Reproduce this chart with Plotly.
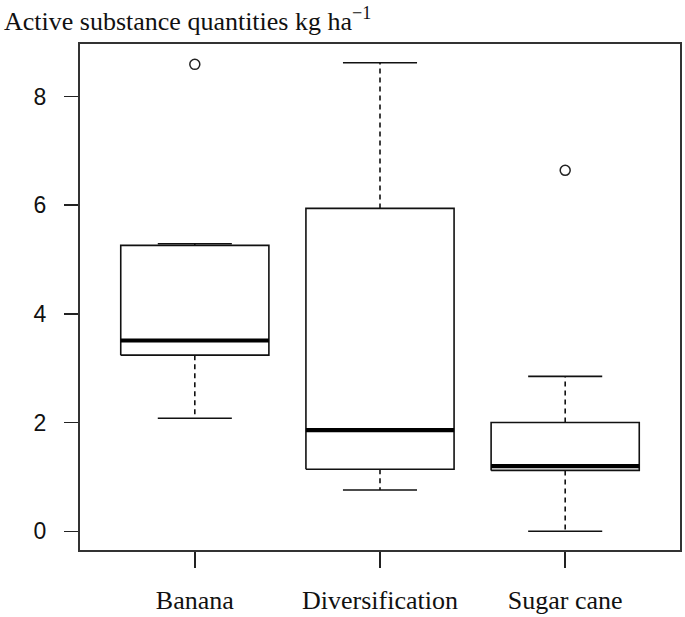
import plotly.graph_objects as go

# ---- data ----
categories = ["Banana", "Diversification", "Sugar cane"]
lower_whisker = [2.08, 0.76, 0.00]
q1 = [3.24, 1.14, 1.12]
median = [3.51, 1.86, 1.20]
q3 = [5.26, 5.94, 2.00]
upper_whisker = [5.29, 8.62, 2.85]
outliers = [[8.59], [], [6.64]]
y_tick_values = [0, 2, 4, 6, 8]

BOX_HALF = 0.4
CAP_HALF = 0.2
INK = "#111111"

pos = list(range(1, len(categories) + 1))

box_x, box_y = [], []
wh_x, wh_y = [], []
cap_x, cap_y = [], []
med_x, med_y = [], []
out_x, out_y = [], []
for i, p in enumerate(pos):
    box_x += [p - BOX_HALF, p + BOX_HALF, p + BOX_HALF, p - BOX_HALF, p - BOX_HALF, None]
    box_y += [q1[i], q1[i], q3[i], q3[i], q1[i], None]
    wh_x += [p, p, None, p, p, None]
    wh_y += [q3[i], upper_whisker[i], None, q1[i], lower_whisker[i], None]
    cap_x += [p - CAP_HALF, p + CAP_HALF, None, p - CAP_HALF, p + CAP_HALF, None]
    cap_y += [upper_whisker[i], upper_whisker[i], None, lower_whisker[i], lower_whisker[i], None]
    med_x += [p - BOX_HALF, p + BOX_HALF, None]
    med_y += [median[i], median[i], None]
    for o in outliers[i]:
        out_x.append(p)
        out_y.append(o)

fig = go.Figure()
fig.add_trace(go.Scatter(x=wh_x, y=wh_y, mode="lines",
                         line=dict(color=INK, width=1.6, dash="5px,4px"),
                         hoverinfo="skip"))
fig.add_trace(go.Scatter(x=cap_x, y=cap_y, mode="lines",
                         line=dict(color=INK, width=1.6), hoverinfo="skip"))
fig.add_trace(go.Scatter(x=box_x, y=box_y, mode="lines",
                         line=dict(color=INK, width=1.6), hoverinfo="skip"))
fig.add_trace(go.Scatter(x=med_x, y=med_y, mode="lines",
                         line=dict(color="#000000", width=4.2), hoverinfo="skip"))
fig.add_trace(go.Scatter(x=out_x, y=out_y, mode="markers",
                         marker=dict(symbol="circle-open", size=10,
                                     color="#222222", line=dict(width=1.5)),
                         hoverinfo="skip"))

all_vals = lower_whisker + upper_whisker + [o for ol in outliers for o in ol]
ymin, ymax = min(all_vals), max(all_vals)
pad = 0.04 * (ymax - ymin)
n = len(categories)
xpad = 0.04 * n

fig.update_layout(
    width=685, height=617,
    margin=dict(l=80, r=5, t=44, b=67, autoexpand=False),
    paper_bgcolor="white", plot_bgcolor="white",
    showlegend=False,
    hovermode=False,
    title=dict(
        text="Active substance quantities kg ha<sup>\u22121</sup>",
        x=0.0, xanchor="left", xref="container",
        y=0.966, yanchor="middle", yref="container",
        pad=dict(l=4, r=0, t=0, b=0),
        font=dict(family="Liberation Serif", size=26, color="#111111"),
    ),
)
fig.update_xaxes(
    range=[0.5 - xpad, n + 0.5 + xpad],
    tickvals=pos, ticktext=categories,
    ticks="outside", ticklen=16, tickwidth=1.5, tickcolor="#222222",
    showline=True, linecolor="#333333", linewidth=2, mirror=True,
    showgrid=False, zeroline=False, automargin=False,
    tickfont=dict(family="Liberation Serif", size=26, color="#111111"),
    ticklabelstandoff=10,
)
fig.update_yaxes(
    range=[ymin - pad, ymax + pad],
    tickvals=y_tick_values,
    ticks="outside", ticklen=14, tickwidth=1.5, tickcolor="#222222",
    showline=True, linecolor="#333333", linewidth=2, mirror=True,
    showgrid=False, zeroline=False, automargin=False,
    tickfont=dict(family="Liberation Sans", size=23, color="#111111"),
    ticklabelstandoff=13,
)

fig.write_html(
    "out.html",
    config={"displayModeBar": False, "staticPlot": True},
    post_script="document.body.style.margin='0';document.body.style.overflow='hidden';",
)
